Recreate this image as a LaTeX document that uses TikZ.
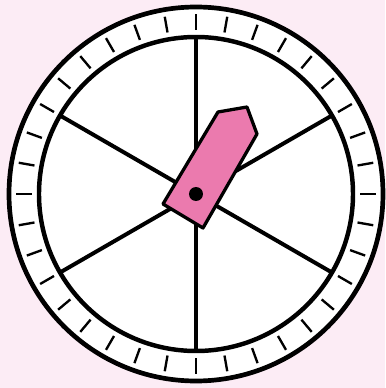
\documentclass[tikz,border=0pt]{standalone}
\usepackage{tikz}
\definecolor{bgpink}{RGB}{252,236,245}
\definecolor{needlepink}{RGB}{235,122,174}
\begin{document}
\begin{tikzpicture}[x=0.03cm, y=0.03cm]
				% Background
				\fill[bgpink] (-196,-194) rectangle (189,194);
				\useasboundingbox (-196,-194) rectangle (189,194);

				% Dial
				\coordinate (centre) at (0,0);
				\draw[line width=4pt, fill=white] (centre) circle (187);
				\draw[line width=3.8pt] (centre) circle (157);

				% Ticks
				\foreach \a in {0,10,...,350}
					\draw[line width=2pt] (\a:164) -- (\a:180);

				% Spokes
				\foreach \a in {30,90,150}
					\draw[line width=3.4pt] (\a:157) -- (\a+180:157);

				% Pointer
				\draw[line width=2.8pt, line join=round, fill=needlepink] (-33,-10) -- (7,-34) -- (61,60) -- (51,87) -- (22,82) -- cycle;
				\fill (centre) circle (7);
			\end{tikzpicture}
\end{document}
